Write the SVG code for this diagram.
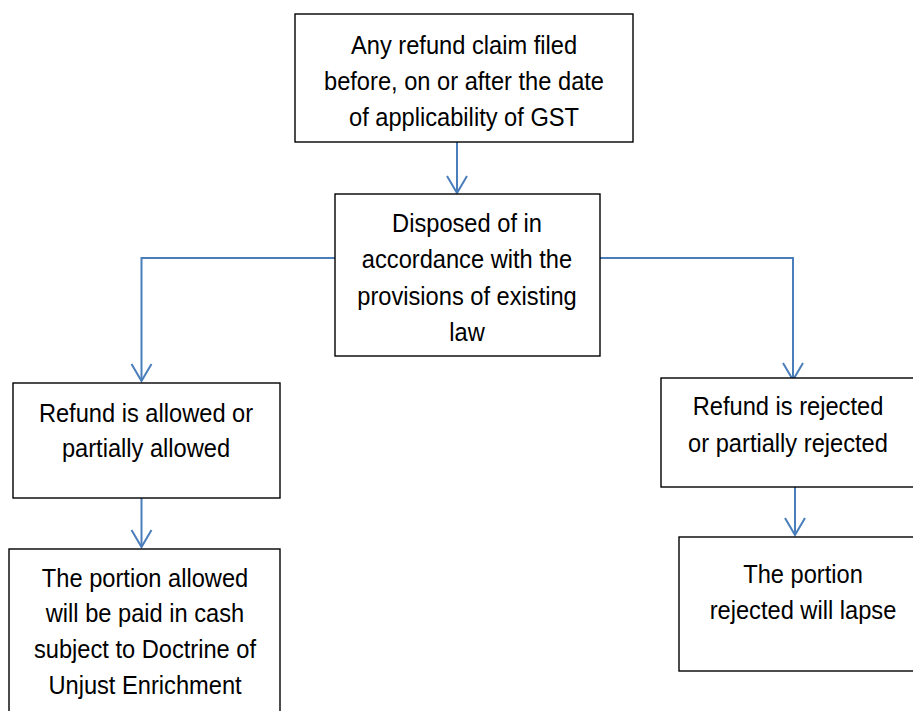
<svg xmlns="http://www.w3.org/2000/svg" width="913" height="711" viewBox="0 0 913 711">
<style>
.box{fill:#fff;stroke:#000;stroke-width:1.4}
.t{font-family:"Liberation Sans",Arial,sans-serif;font-size:26px;fill:#000;text-anchor:middle}
.c{fill:none;stroke:#4a7ebb;stroke-width:2}
</style>
<defs>
<marker id="ah" markerUnits="userSpaceOnUse" markerWidth="40" markerHeight="40" refX="0" refY="0" orient="auto" overflow="visible" viewBox="-20 -20 40 40">
<path d="M-17,-10 L0,0 L-17,10" fill="none" stroke="#4a7ebb" stroke-width="2"/>
</marker>
</defs>
<rect width="913" height="711" fill="#fff"/>
<g id="connectors">
<path class="c" d="M457,142 V193" marker-end="url(#ah)"/>
<path class="c" d="M335,258 H141.5 V381" marker-end="url(#ah)"/>
<path class="c" d="M600,258 H793 V380" marker-end="url(#ah)"/>
<path class="c" d="M141.5,498 V547" marker-end="url(#ah)"/>
<path class="c" d="M795,487 V535" marker-end="url(#ah)"/>
</g>
<g id="n1">
<rect class="box" x="295" y="14" width="338" height="128"/>
<g transform="translate(464 0) scale(0.91 1)">
<text class="t" x="0" y="54">Any refund claim filed</text>
<text class="t" x="0" y="90">before, on or after the date</text>
<text class="t" x="0" y="126">of applicability of GST</text>
</g>
</g>
<g id="n2">
<rect class="box" x="335" y="194" width="265" height="162"/>
<g transform="translate(467 0) scale(0.91 1)">
<text class="t" x="0" y="232">Disposed of in</text>
<text class="t" x="0" y="268">accordance with the</text>
<text class="t" x="0" y="305">provisions of existing</text>
<text class="t" x="0" y="341">law</text>
</g>
</g>
<g id="n3">
<rect class="box" x="13" y="383" width="267" height="115"/>
<g transform="translate(146 0) scale(0.91 1)">
<text class="t" x="0" y="422">Refund is allowed or</text>
<text class="t" x="0" y="457">partially allowed</text>
</g>
</g>
<g id="n4">
<rect class="box" x="9" y="549" width="271" height="180"/>
<g transform="translate(145 0) scale(0.91 1)">
<text class="t" x="0" y="587">The portion allowed</text>
<text class="t" x="0" y="622">will be paid in cash</text>
<text class="t" x="0" y="658">subject to Doctrine of</text>
<text class="t" x="0" y="694">Unjust Enrichment</text>
</g>
</g>
<g id="n5">
<rect class="box" x="661" y="378" width="255" height="109"/>
<g transform="translate(788 0) scale(0.91 1)">
<text class="t" x="0" y="415">Refund is rejected</text>
<text class="t" x="0" y="452">or partially rejected</text>
</g>
</g>
<g id="n6">
<rect class="box" x="679" y="537" width="248" height="134"/>
<g transform="translate(803 0) scale(0.91 1)">
<text class="t" x="0" y="583">The portion</text>
<text class="t" x="0" y="619">rejected will lapse</text>
</g>
</g>
</svg>
